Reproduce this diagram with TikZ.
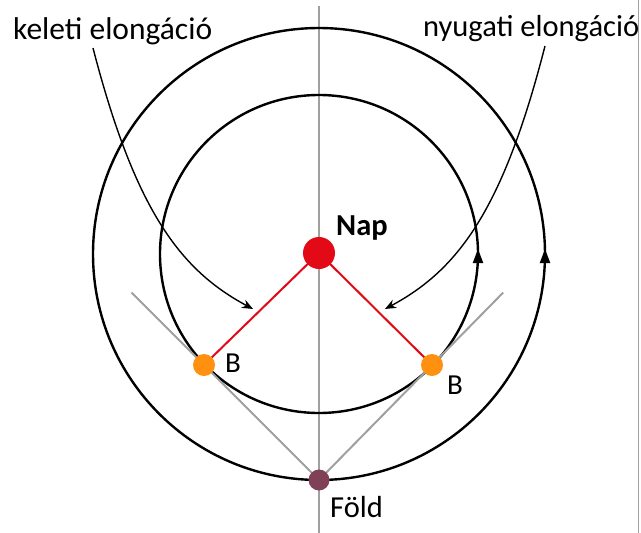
\documentclass[tikz,border=0pt]{standalone}
\usepackage{fontspec}
\setmainfont{Carlito}
\usetikzlibrary{arrows.meta,calc,backgrounds}
\definecolor{sunred}{RGB}{227,10,23}
\definecolor{borange}{RGB}{255,144,16}
\definecolor{earthc}{RGB}{128,64,88}
\definecolor{axisgray}{RGB}{160,160,160}
\tikzset{
  orbit/.style={draw=black,line width=2.4pt},
  axisline/.style={draw=axisgray,line width=2pt},
  redline/.style={draw=sunred,line width=2pt},
  pointer/.style={draw=black,line width=1.4pt,-{Stealth[length=11pt,width=9pt]}},
  dot/.style={circle,inner sep=0pt,draw=none},
  lbl/.style={anchor=base west,inner sep=0pt,font=\fontsize{30.5}{35}\selectfont},
  orbarrow/.style={fill=black,draw=none}
}
\begin{document}
\begin{tikzpicture}[x=1pt,y=-1pt]
\useasboundingbox (0,0) rectangle (641,533);
\coordinate (C) at (319,254);
% bodies
\node[dot,fill=sunred,minimum size=32pt] (sun) at (319,253) {};
\node[dot,fill=borange,minimum size=22pt] (b1) at (204,365) {};
\node[dot,fill=borange,minimum size=22pt] (b2) at (432,365) {};
\node[dot,fill=earthc,minimum size=21pt] (earth) at (319,480) {};
\coordinate (top) at (319,6);
\coordinate (bot) at (319,533);
\coordinate (t1) at ($(earth.center)!1.63!(b1.center)$);
\coordinate (t2) at ($(earth.center)!1.63!(b2.center)$);
\coordinate (edgeT) at (638.5,0);
\coordinate (edgeB) at (638.5,533);
\begin{scope}[on background layer]
  \fill[white] (0,0) rectangle (641,533);
  \draw[draw=axisgray,line width=1pt] (edgeT) -- (edgeB);
  \draw[axisline] (top) -- (bot);
  \draw[orbit] (C) circle[radius=159pt];
  \draw[orbit] (C) circle[radius=226pt];
  \fill[orbarrow] (478,249) -- (483.3,263) -- (472.7,263) -- cycle;
  \fill[orbarrow] (545,249) -- (550.3,263) -- (539.7,263) -- cycle;
  \draw[axisline] (t1) -- (earth.center);
  \draw[axisline] (t2) -- (earth.center);
  \draw[redline] (sun.center) -- (b1.center);
  \draw[redline] (sun.center) -- (b2.center);
\end{scope}
% labels
\node[lbl,font=\fontsize{31.5}{36}\selectfont] (kel) at (13,39) {keleti elongáció};
\node[lbl,font=\fontsize{30.5}{36}\selectfont] (nyu) at (423,36) {nyugati elongáció};
\node[lbl,font=\fontsize{30.5}{35}\selectfont\bfseries] (nap) at (336,235) {Nap};
\node[lbl,font=\fontsize{29}{34}\selectfont] (lb1) at (225,372) {B};
\node[lbl,font=\fontsize{29}{34}\selectfont] (lb2) at (447,394) {B};
\node[lbl] (fold) at (330,517) {Föld};
% pointers
\coordinate (k0) at (93,48);
\coordinate (k1) at (253,309);
\coordinate (n0) at (545,46);
\coordinate (n1) at (385,309);
\draw[pointer] (k0) .. controls (135,210) and (180,270) .. (k1);
\draw[pointer] (n0) .. controls (503,210) and (458,270) .. (n1);
\end{tikzpicture}
\end{document}
